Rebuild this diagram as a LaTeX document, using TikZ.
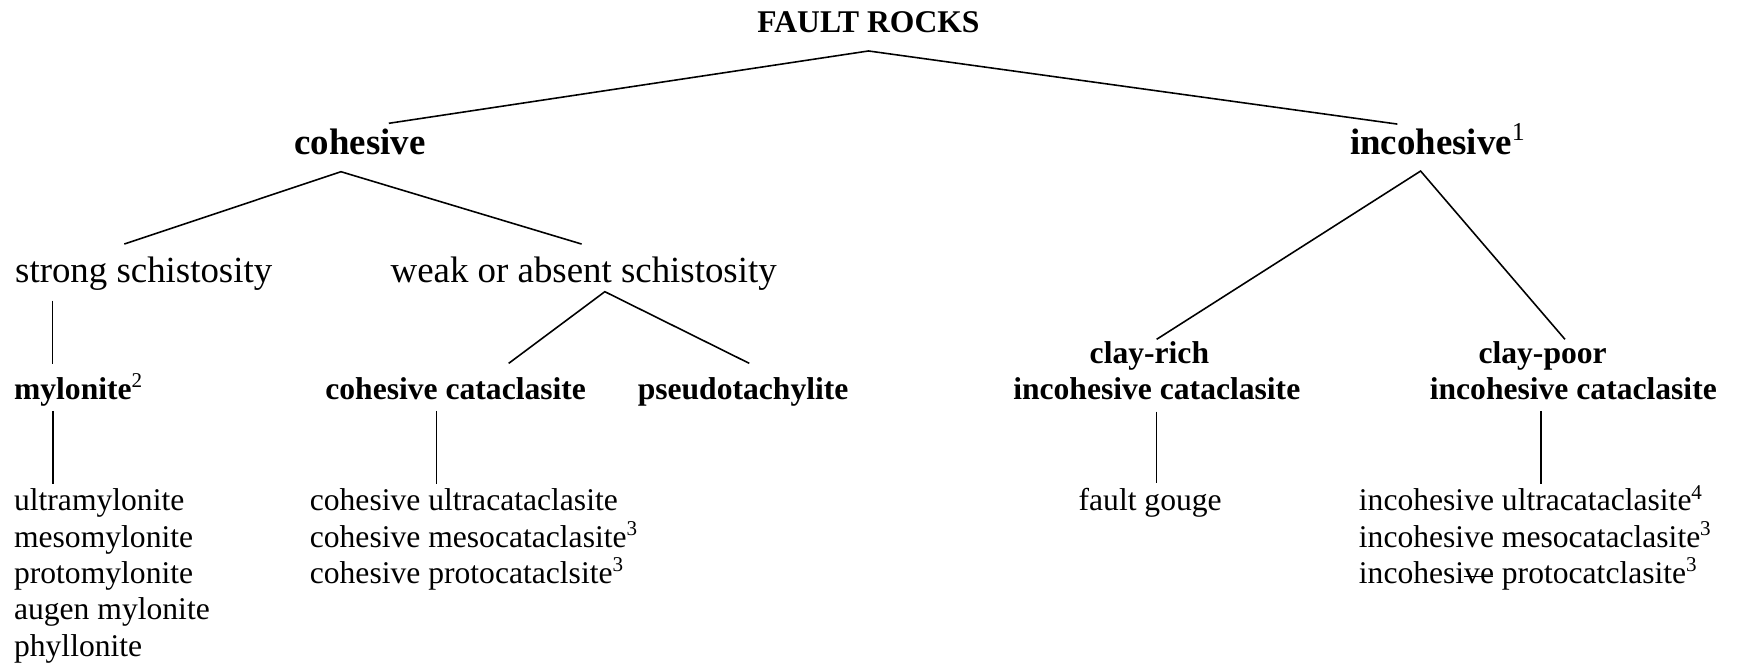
\documentclass[tikz,border=0pt]{standalone}
\usepackage{fontspec}
\setmainfont{Liberation Serif}
\begin{document}
\begin{tikzpicture}[x=0.42067pt, y=-0.42067pt, line width=0.6pt,
        every node/.style={inner sep=0pt, anchor=base west},
        head/.style={font=\fontsize{14}{16.8}\selectfont\bfseries},
        branch/.style={font=\fontsize{14}{16.8}\selectfont},
        rock/.style={font=\fontsize{12}{13.8}\selectfont\bfseries},
        item/.style={font=\fontsize{12}{13.8}\selectfont}]
        \useasboundingbox (0,0) rectangle (1568,602);
        \pgfmathsetmacro{\topBase}{29.5}
        \pgfmathsetmacro{\headBase}{139.5}
        \pgfmathsetmacro{\subBase}{255}
        \pgfmathsetmacro{\clayBase}{328}
        \pgfmathsetmacro{\rockBase}{360.3}
        \pgfmathsetmacro{\listBase}{461}
        % levels
        \node[rock, anchor=base] (faultrocks) at (784,\topBase) {FAULT ROCKS};
        \node[head] (cohesive) at (265,\headBase) {cohesive};
        \node[head] (incohesive) at (1218,\headBase) {incohesive\textsuperscript{\mdseries 1}};
        \node[branch] (strong) at (13,\subBase) {strong schistosity};
        \node[branch] (weak) at (352,\subBase) {weak or absent schistosity};
        \node[rock] (mylonite) at (12,\rockBase) {mylonite\textsuperscript{\mdseries 2}};
        \node[rock] (cohcat) at (293,\rockBase) {cohesive cataclasite};
        \node[rock] (pseudo) at (575,\rockBase) {pseudotachylite};
        \node[rock] (clayrich) at (983,\clayBase) {clay-rich};
        \node[rock] (richcat) at (914,\rockBase) {incohesive cataclasite};
        \node[rock] (claypoor) at (1334,\clayBase) {clay-poor};
        \node[rock] (poorcat) at (1290,\rockBase) {incohesive cataclasite};
        % lists
        \node[item] (mylonites) at (12,\listBase) {\begin{tabular}[t]{@{}l@{}}ultramylonite\\ mesomylonite\\ protomylonite\\ augen mylonite\\ phyllonite\end{tabular}};
        \node[item] (cataclasites) at (279,\listBase) {\begin{tabular}[t]{@{}l@{}}cohesive ultracataclasite\\ cohesive mesocataclasite\textsuperscript{3}\\ cohesive protocataclsite\textsuperscript{3}\end{tabular}};
        \node[item] (gouge) at (973,\listBase) {fault gouge};
        \node[item] (inccataclasites) at (1226,\listBase) {\begin{tabular}[t]{@{}l@{}}incohesive ultracataclasite\textsuperscript{4}\\ incohesive mesocataclasite\textsuperscript{3}\\ incohesi\rlap{\rule[2.3pt]{11pt}{0.6pt}}ve protocatclasite\textsuperscript{3}\end{tabular}};
        % branches
        \draw ([shift={(86,-28.2)}]cohesive.base west) -- ([shift={(0,16.5)}]faultrocks.base) -- ([shift={(43.4,-27.5)}]incohesive.base west);
        \draw ([shift={(99.2,-34.7)}]strong.base west) -- ([shift={(42.8,15.5)}]cohesive.base west) -- ([shift={(173,-34.7)}]weak.base west);
        \draw ([shift={(166.2,-32.3)}]cohcat.base west) -- ([shift={(194,8.3)}]weak.base west) -- ([shift={(101.4,-32.3)}]pseudo.base west);
        \draw ([shift={(61.1,-21.7)}]clayrich.base west) -- ([shift={(64.4,14.9)}]incohesive.base west) -- ([shift={(78.7,-21.7)}]claypoor.base west);
        \draw ([shift={(34.5,16.4)}]strong.base west) -- ([shift={(35.5,-31.7)}]mylonite.base west);
        \draw ([shift={(36,10.7)}]mylonite.base west) -- ([shift={(36,-24)}]mylonites.base west);
        \draw ([shift={(101,10.7)}]cohcat.base west) -- ([shift={(115,-24)}]cataclasites.base west);
        \draw ([shift={(130,11.3)}]richcat.base west) -- ([shift={(71,-25)}]gouge.base west);
        \draw ([shift={(101,10.7)}]poorcat.base west) -- ([shift={(165,-24)}]inccataclasites.base west);
      \end{tikzpicture}
\end{document}
